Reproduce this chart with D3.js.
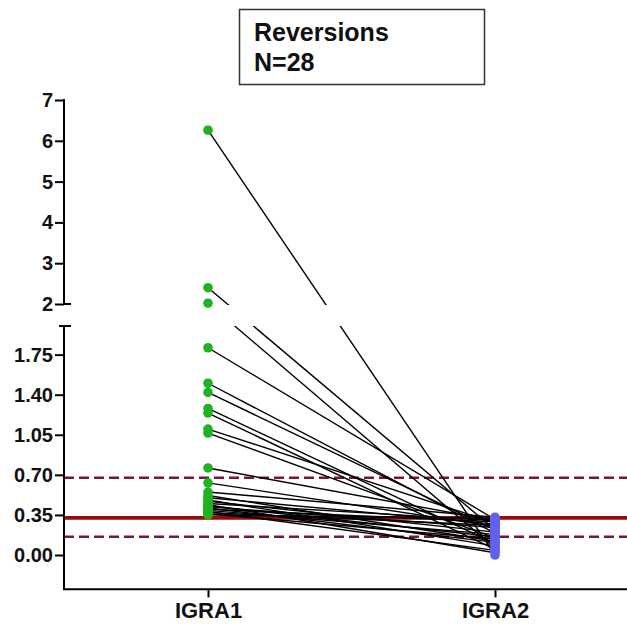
<!DOCTYPE html>
<html><head><meta charset="utf-8">
<script src="https://cdn.jsdelivr.net/npm/d3@7"></script>
<style>
html,body{margin:0;padding:0;background:#fff;}
svg{display:block;font-family:"Liberation Sans",Arial,sans-serif;}
</style></head>
<body>
<svg id="c" width="627" height="624"></svg>
<script>
// ---- data ----
const categories = ["IGRA1", "IGRA2"];
const igra1 = [6.26, 2.40, 2.02, 1.81, 1.50, 1.42, 1.28, 1.24, 1.10, 1.065, 0.76, 0.63,
               0.55, 0.52, 0.50, 0.48, 0.47, 0.45, 0.44, 0.43, 0.42, 0.41, 0.40, 0.39, 0.38, 0.37, 0.36, 0.35];
const igra2 = [0.00, 0.22, 0.06, 0.31, 0.19, 0.22, 0.10, 0.05, 0.28, 0.15, 0.30, 0.25,
               0.33, 0.12, 0.27, 0.08, 0.20, 0.30, 0.02, 0.16, 0.24, 0.11, 0.29, 0.18, 0.04, 0.26, 0.14, 0.32];
const upperTicks = [2, 3, 4, 5, 6, 7];
const lowerTicks = [0.00, 0.35, 0.70, 1.05, 1.40, 1.75];
const cutoffSolid = 0.325;
const cutoffDashed = [0.675, 0.16];
const titleLines = ["Reversions", "N=28"];

// ---- layout ----
const W = 627, H = 624;
const axisX = 64;
const svg = d3.select("#c");
const yUpper = d3.scaleLinear().domain([2, 7]).range([304, 100]);
const yLower = d3.scaleLinear().domain([0, 2]).range([555, 326]);
const xAxisY = yLower(-0.3);
const y = v => v > 2 ? yUpper(v) : yLower(v);
const x = d3.scalePoint().domain(categories).range([208, 495]);

// reference lines
svg.append("line").attr("x1", axisX).attr("x2", W).attr("y1", yLower(cutoffSolid)).attr("y2", yLower(cutoffSolid))
  .attr("stroke", "#9a0a0a").attr("stroke-width", 3.8);
cutoffDashed.forEach(v => {
  svg.append("line").attr("x1", axisX).attr("x2", W).attr("y1", yLower(v)).attr("y2", yLower(v))
    .attr("stroke", "#7a1242").attr("stroke-width", 2.4).attr("stroke-dasharray", "10,5");
});

// connecting lines
const pairs = igra1.map((v, i) => ({a: v, b: igra2[i]}));
svg.append("g").selectAll("line").data(pairs).join("line")
  .attr("x1", x("IGRA1")).attr("y1", d => y(d.a))
  .attr("x2", x("IGRA2")).attr("y2", d => y(d.b))
  .attr("stroke", "#000").attr("stroke-width", 1.4);

// break gap mask
svg.append("rect").attr("x", axisX + 2).attr("y", yUpper(2) + 1).attr("width", W - axisX)
  .attr("height", yLower(2) - yUpper(2) - 1).attr("fill", "#fff");

// points
svg.append("g").selectAll("circle").data(igra1).join("circle")
  .attr("cx", x("IGRA1")).attr("cy", d => y(d)).attr("r", 4.8).attr("fill", "#1fb41f");
svg.append("g").selectAll("circle").data(igra2).join("circle")
  .attr("cx", x("IGRA2")).attr("cy", d => y(d)).attr("r", 4.8).attr("fill", "#6161ee");

// axes
const styleAxis = (g, fs) => {
  g.select(".domain").remove();
  g.selectAll(".tick line").attr("stroke", "#000").attr("stroke-width", 2);
  g.selectAll(".tick text").attr("fill", "#111").attr("font-size", fs).attr("font-weight", "bold")
    .attr("font-family", '"Liberation Sans", Arial, sans-serif');
};
svg.append("g").attr("transform", `translate(${axisX},0)`)
  .call(d3.axisLeft(yUpper).tickValues(upperTicks).tickFormat(d3.format("d")).tickSize(9).tickPadding(2))
  .call(g => styleAxis(g, 20));
svg.append("g").attr("transform", `translate(${axisX},0)`)
  .call(d3.axisLeft(yLower).tickValues(lowerTicks).tickFormat(d3.format(".2f")).tickSize(9).tickPadding(2))
  .call(g => styleAxis(g, 20));
// axis spines
svg.append("line").attr("x1", axisX).attr("x2", axisX).attr("y1", yUpper(7) - 1).attr("y2", yUpper(2))
  .attr("stroke", "#000").attr("stroke-width", 2);
svg.append("line").attr("x1", axisX).attr("x2", axisX + 7).attr("y1", yUpper(2)).attr("y2", yUpper(2))
  .attr("stroke", "#000").attr("stroke-width", 2);
svg.append("line").attr("x1", axisX).attr("x2", axisX).attr("y1", yLower(2)).attr("y2", xAxisY)
  .attr("stroke", "#000").attr("stroke-width", 2);
svg.append("line").attr("x1", axisX - 5).attr("x2", axisX + 7).attr("y1", yLower(2)).attr("y2", yLower(2))
  .attr("stroke", "#000").attr("stroke-width", 2);
svg.append("line").attr("x1", axisX - 1).attr("x2", W).attr("y1", xAxisY).attr("y2", xAxisY)
  .attr("stroke", "#000").attr("stroke-width", 2);
svg.append("g").attr("transform", `translate(0,${xAxisY})`)
  .call(d3.axisBottom(x).tickSize(8).tickPadding(5))
  .call(g => styleAxis(g, 22));

// title box
svg.append("rect").attr("x", 239.5).attr("y", 9.5).attr("width", 245).attr("height", 75)
  .attr("fill", "#fff").attr("stroke", "#333").attr("stroke-width", 1.5);
titleLines.forEach((t, i) => {
  svg.append("text").attr("x", 254).attr("y", 41 + i * 30).attr("font-size", 25).attr("font-weight", "bold")
    .attr("fill", "#111").text(t);
});
</script>
</body></html>
